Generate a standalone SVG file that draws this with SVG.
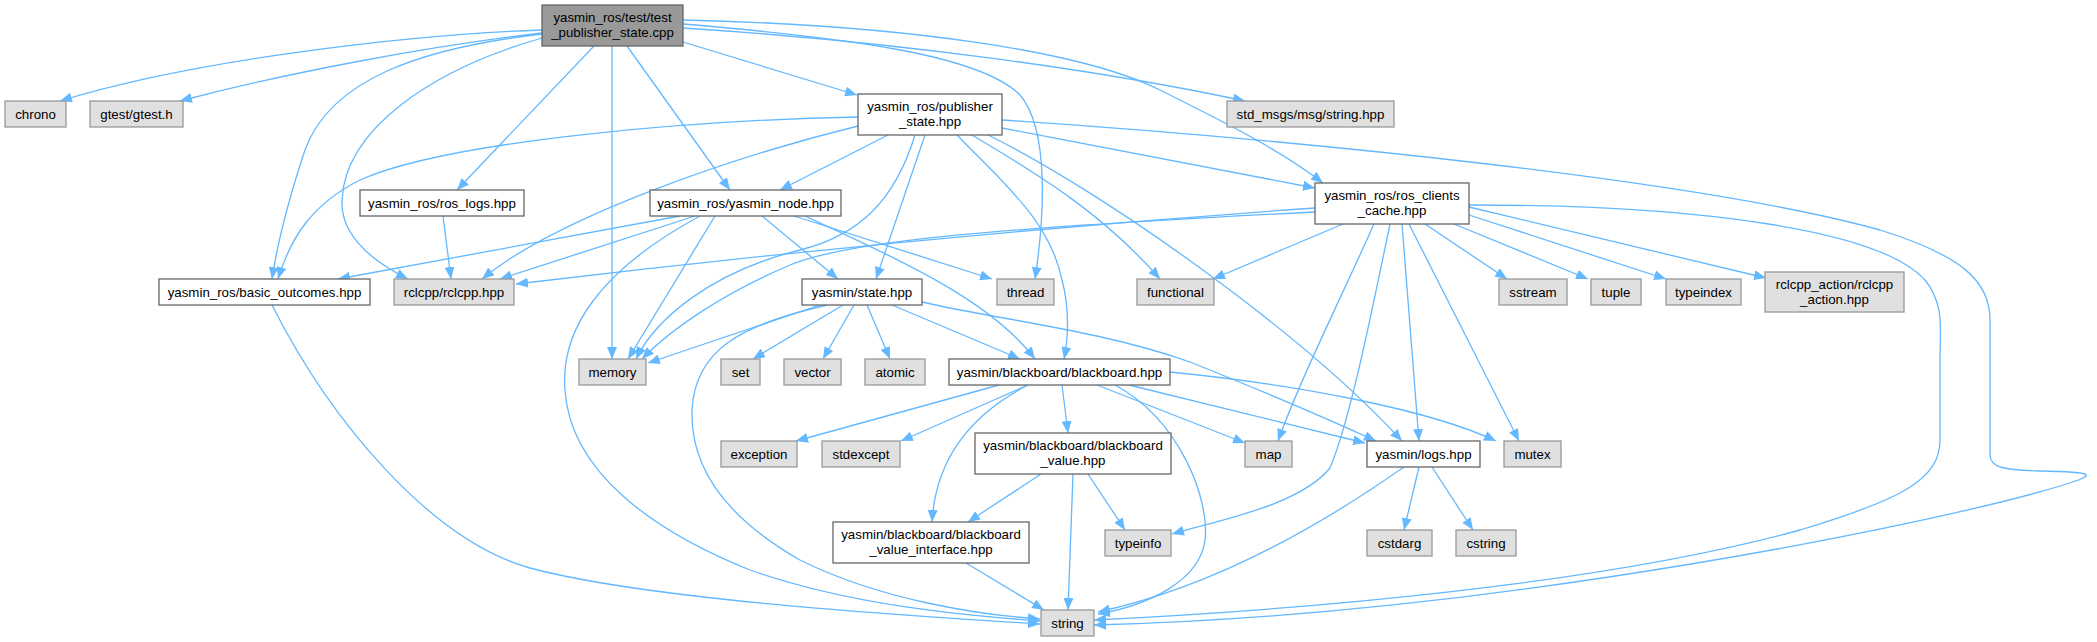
<svg xmlns="http://www.w3.org/2000/svg" width="2097" height="642" viewBox="0 0 2097 642">
<defs>
<marker id="ah" viewBox="0 0 12 10" refX="12" refY="5" markerWidth="12" markerHeight="10" markerUnits="userSpaceOnUse" orient="auto">
<path d="M0,0 L12,5 L0,10 z" fill="#63b8ff"/>
</marker>
<style>
.e{fill:none;stroke:#63b8ff;stroke-width:1.3;marker-end:url(#ah)}
.d rect{fill:#ffffff;stroke:#666666;stroke-width:1.3}
.x rect{fill:#e0e0e0;stroke:#999999;stroke-width:1.3}
.r rect{fill:#999999;stroke:#666666;stroke-width:1.3}
text{font-family:"Liberation Sans",Arial,Helvetica,sans-serif;font-size:13.3px;fill:#000;text-anchor:middle}
</style>
</defs>
<rect width="2097" height="642" fill="#ffffff"/>
<g id="edges">
<!-- root -->
<path class="e" d="M542,30 C420,34 200,58 60,101"/>
<path class="e" d="M542,33 C430,46 290,72 180,101"/>
<path class="e" d="M542,34 C420,48 330,80 305,150 C290,195 278,240 272,279"/>
<path class="e" d="M542,38 C430,70 345,130 342,200 C340,240 380,265 408,279"/>
<path class="e" d="M594,46 L457,190"/>
<path class="e" d="M612,46 L612,359"/>
<path class="e" d="M627,46 L730,190"/>
<path class="e" d="M683,42 L857,95"/>
<path class="e" d="M683,24 C850,38 980,55 1020,95 C1050,130 1044,220 1035,279"/>
<path class="e" d="M683,20 C900,25 1080,50 1160,90 C1230,125 1280,150 1323,183"/>
<path class="e" d="M683,28 C900,42 1100,70 1245,101"/>
<!-- publisher_state -->
<path class="e" d="M858,117 C700,120 450,140 360,180 C310,205 290,240 278,279"/>
<path class="e" d="M858,126 C740,155 560,215 482,279"/>
<path class="e" d="M888,135 L780,190"/>
<path class="e" d="M915,135 C895,200 860,235 800,250 C710,272 655,320 636,359"/>
<path class="e" d="M925,135 L876,279"/>
<path class="e" d="M957,135 C1000,180 1050,220 1062,280 C1070,310 1068,340 1064,359"/>
<path class="e" d="M972,135 C1030,170 1100,210 1160,279"/>
<path class="e" d="M988,135 C1100,190 1300,330 1402,441"/>
<path class="e" d="M1002,128 L1315,188"/>
<path class="e" d="M1002,120 C1300,140 1700,180 1880,230 C1960,255 1990,280 1990,320 L1990,455 C1990,468 2005,470 2040,471 C2095,472 2100,474 2060,486 C1950,520 1500,615 1094,625"/>
<!-- ros_logs -->
<path class="e" d="M443,216 L451,279"/>
<!-- yasmin_node -->
<path class="e" d="M680,216 L338,279"/>
<path class="e" d="M695,216 L500,279"/>
<path class="e" d="M715,216 L628,359"/>
<path class="e" d="M762,216 L838,279"/>
<path class="e" d="M794,216 L992,279"/>
<path class="e" d="M805,216 C900,260 990,300 1035,359"/>
<path class="e" d="M700,216 C600,270 560,330 565,390 C570,470 650,530 750,570 C850,605 960,615 1040,621"/>
<!-- ros_clients_cache -->
<path class="e" d="M1315,208 C1000,230 700,262 516,284"/>
<path class="e" d="M1315,212 C1000,228 850,240 790,265 C720,295 670,330 642,359"/>
<path class="e" d="M1343,224 L1213,279"/>
<path class="e" d="M1374,224 C1340,300 1300,380 1278,441"/>
<path class="e" d="M1390,224 C1370,320 1350,420 1330,468 C1300,505 1220,520 1172,534"/>
<path class="e" d="M1402,224 L1419,441"/>
<path class="e" d="M1409,224 L1519,441"/>
<path class="e" d="M1425,224 L1507,279"/>
<path class="e" d="M1454,224 L1588,279"/>
<path class="e" d="M1469,215 L1666,279"/>
<path class="e" d="M1469,207 L1766,278"/>
<path class="e" d="M1469,205 C1700,205 1880,230 1925,280 C1945,305 1940,330 1940,360 L1940,440 C1940,480 1900,500 1800,530 C1600,585 1300,610 1094,620"/>
<!-- basic_outcomes -->
<path class="e" d="M272,305 C330,420 430,540 530,568 C650,600 900,615 1040,624"/>
<!-- state.hpp -->
<path class="e" d="M820,305 L648,363"/>
<path class="e" d="M827,305 C740,325 695,350 692,410 C690,470 730,520 800,560 C880,600 980,615 1040,619"/>
<path class="e" d="M843,305 L753,359"/>
<path class="e" d="M854,305 L823,359"/>
<path class="e" d="M867,305 L890,359"/>
<path class="e" d="M892,305 L1020,359"/>
<path class="e" d="M922,302 C1000,320 1100,330 1190,362 C1260,390 1330,420 1376,441"/>
<!-- blackboard.hpp -->
<path class="e" d="M999,385 L796,441"/>
<path class="e" d="M1028,385 L901,441"/>
<path class="e" d="M1028,385 C960,420 935,470 932,522"/>
<path class="e" d="M1062,385 L1068,433"/>
<path class="e" d="M1097,385 L1245,443"/>
<path class="e" d="M1115,385 C1180,420 1210,500 1205,540 C1200,580 1150,605 1098,614"/>
<path class="e" d="M1129,385 L1365,443"/>
<path class="e" d="M1170,372 C1300,385 1430,410 1496,441"/>
<!-- blackboard_value -->
<path class="e" d="M1041,474 L968,522"/>
<path class="e" d="M1073,474 L1068,610"/>
<path class="e" d="M1088,474 L1125,530"/>
<!-- blackboard_value_interface -->
<path class="e" d="M966,563 L1044,610"/>
<!-- logs -->
<path class="e" d="M1419,467 L1404,530"/>
<path class="e" d="M1432,467 L1473,530"/>
<path class="e" d="M1404,467 C1300,540 1200,590 1098,612"/>
</g>
<g id="n_root" class="r"><rect x="542" y="5" width="141" height="41"/><text x="612.5" y="22">yasmin_ros/test/test</text><text x="612.5" y="37">_publisher_state.cpp</text></g>
<g id="n_chrono" class="x"><rect x="5" y="101" width="61" height="26"/><text x="35.5" y="118.5">chrono</text></g>
<g id="n_gtest" class="x"><rect x="90" y="101" width="93" height="26"/><text x="136.5" y="118.5">gtest/gtest.h</text></g>
<g id="n_publisher_state" class="d"><rect x="858" y="94" width="144" height="41"/><text x="930" y="111">yasmin_ros/publisher</text><text x="930" y="126">_state.hpp</text></g>
<g id="n_std_msgs" class="x"><rect x="1227" y="101" width="167" height="26"/><text x="1310.5" y="118.5">std_msgs/msg/string.hpp</text></g>
<g id="n_ros_logs" class="d"><rect x="360" y="190" width="164" height="26"/><text x="442" y="207.5">yasmin_ros/ros_logs.hpp</text></g>
<g id="n_yasmin_node" class="d"><rect x="650" y="190" width="191" height="26"/><text x="745.5" y="207.5">yasmin_ros/yasmin_node.hpp</text></g>
<g id="n_ros_clients_cache" class="d"><rect x="1315" y="183" width="154" height="41"/><text x="1392" y="200">yasmin_ros/ros_clients</text><text x="1392" y="215">_cache.hpp</text></g>
<g id="n_basic_outcomes" class="d"><rect x="159" y="279" width="211" height="26"/><text x="264.5" y="296.5">yasmin_ros/basic_outcomes.hpp</text></g>
<g id="n_rclcpp" class="x"><rect x="394" y="279" width="120" height="26"/><text x="454" y="296.5">rclcpp/rclcpp.hpp</text></g>
<g id="n_state" class="d"><rect x="802" y="279" width="120" height="26"/><text x="862" y="296.5">yasmin/state.hpp</text></g>
<g id="n_thread" class="x"><rect x="997" y="279" width="57" height="26"/><text x="1025.5" y="296.5">thread</text></g>
<g id="n_functional" class="x"><rect x="1137" y="279" width="77" height="26"/><text x="1175.5" y="296.5">functional</text></g>
<g id="n_sstream" class="x"><rect x="1499" y="279" width="68" height="26"/><text x="1533" y="296.5">sstream</text></g>
<g id="n_tuple" class="x"><rect x="1591" y="279" width="50" height="26"/><text x="1616" y="296.5">tuple</text></g>
<g id="n_typeindex" class="x"><rect x="1666" y="279" width="75" height="26"/><text x="1703.5" y="296.5">typeindex</text></g>
<g id="n_rclcpp_action" class="x"><rect x="1765" y="272" width="139" height="40"/><text x="1834.5" y="289">rclcpp_action/rclcpp</text><text x="1834.5" y="304">_action.hpp</text></g>
<g id="n_memory" class="x"><rect x="579" y="359" width="67" height="26"/><text x="612.5" y="376.5">memory</text></g>
<g id="n_set" class="x"><rect x="721" y="359" width="39" height="26"/><text x="740.5" y="376.5">set</text></g>
<g id="n_vector" class="x"><rect x="784" y="359" width="57" height="26"/><text x="812.5" y="376.5">vector</text></g>
<g id="n_atomic" class="x"><rect x="865" y="359" width="60" height="26"/><text x="895" y="376.5">atomic</text></g>
<g id="n_blackboard" class="d"><rect x="949" y="359" width="221" height="26"/><text x="1059.5" y="376.5">yasmin/blackboard/blackboard.hpp</text></g>
<g id="n_exception" class="x"><rect x="721" y="441" width="76" height="26"/><text x="759" y="458.5">exception</text></g>
<g id="n_stdexcept" class="x"><rect x="822" y="441" width="78" height="26"/><text x="861" y="458.5">stdexcept</text></g>
<g id="n_blackboard_value" class="d"><rect x="975" y="433" width="196" height="41"/><text x="1073" y="450">yasmin/blackboard/blackboard</text><text x="1073" y="465">_value.hpp</text></g>
<g id="n_map" class="x"><rect x="1245" y="441" width="47" height="26"/><text x="1268.5" y="458.5">map</text></g>
<g id="n_logs" class="d"><rect x="1367" y="441" width="113" height="26"/><text x="1423.5" y="458.5">yasmin/logs.hpp</text></g>
<g id="n_mutex" class="x"><rect x="1504" y="441" width="57" height="26"/><text x="1532.5" y="458.5">mutex</text></g>
<g id="n_blackboard_value_interface" class="d"><rect x="833" y="522" width="196" height="41"/><text x="931" y="539">yasmin/blackboard/blackboard</text><text x="931" y="554">_value_interface.hpp</text></g>
<g id="n_typeinfo" class="x"><rect x="1105" y="530" width="66" height="26"/><text x="1138" y="547.5">typeinfo</text></g>
<g id="n_cstdarg" class="x"><rect x="1367" y="530" width="65" height="26"/><text x="1399.5" y="547.5">cstdarg</text></g>
<g id="n_cstring" class="x"><rect x="1456" y="530" width="60" height="26"/><text x="1486" y="547.5">cstring</text></g>
<g id="n_string" class="x"><rect x="1041" y="610" width="53" height="26"/><text x="1067.5" y="627.5">string</text></g>
</svg>
